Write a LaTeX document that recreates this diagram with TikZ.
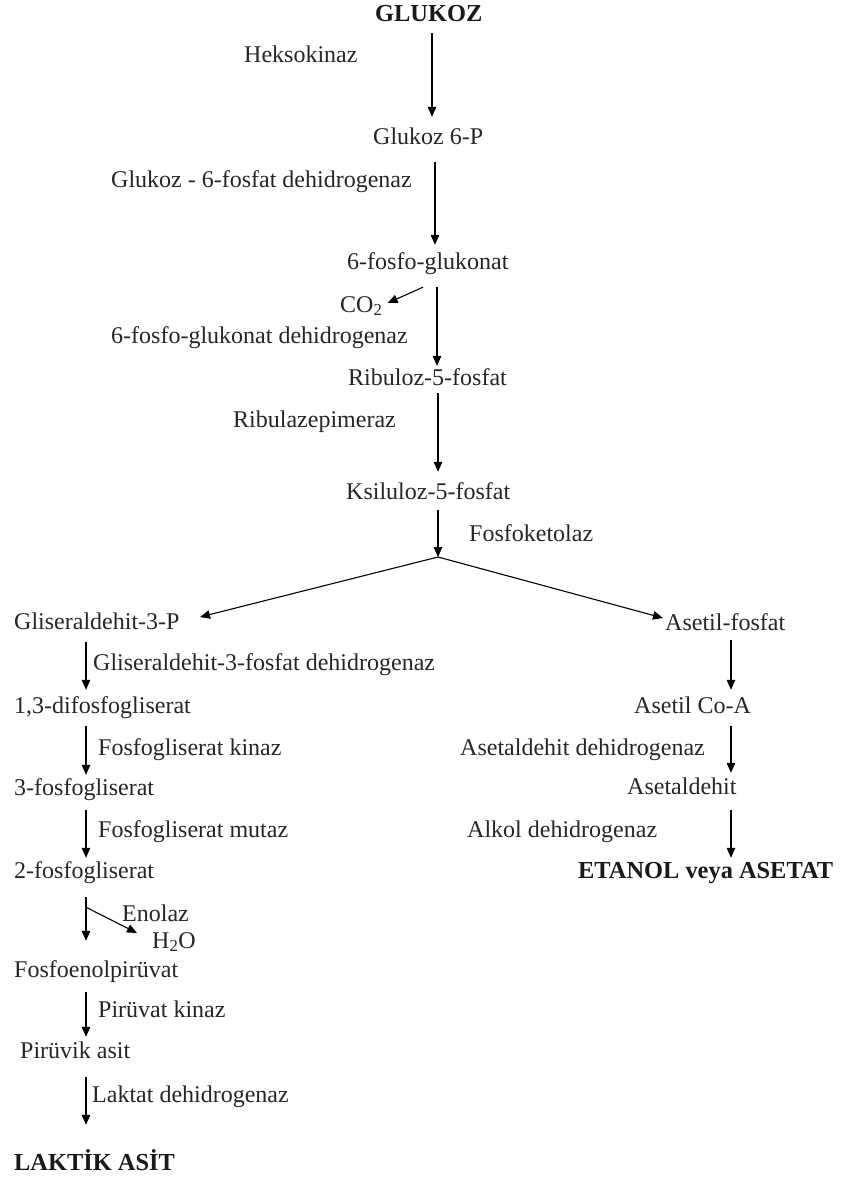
\documentclass[tikz,border=0pt]{standalone}
\usepackage{fontspec}
\setmainfont{Liberation Serif}
\usetikzlibrary{arrows.meta,calc}
\tikzset{
  lbl/.style={anchor=base west, inner sep=0pt, text height=15pt, text depth=5pt, text=black!85, font=\fontsize{24}{28}\selectfont},
  bold/.style={lbl, text=black!90, font=\fontsize{24.4}{28}\selectfont\bfseries},
  arr/.style={-{Triangle[length=10pt,width=8.5pt]}, line width=1.1pt},
  ln/.style={line width=1.1pt}
}
\begin{document}
\begin{tikzpicture}[x=1pt,y=-1pt]
\fill[white] (0,0) rectangle (842,1180);
\useasboundingbox (0,0) rectangle (842,1180);
% column coordinates
\coordinate (xa) at (432,0);
\coordinate (xb) at (435,0);
\coordinate (xc) at (437,0);
\coordinate (xd) at (438,0);
\coordinate (xco) at (423,0);
\coordinate (xl) at (86,0);
\coordinate (xr) at (731,0);
% main trunk
\node[bold] (glu) at (375,22) {GLUKOZ};
\node[lbl] (hek) at (244,63) {Heksokinaz};
\node[lbl] (g6p) at (373,144) {Glukoz 6-P};
\node[lbl] (g6pd) at (111,187) {Glukoz - 6-fosfat dehidrogenaz};
\node[lbl] (pg) at (347,269) {6-fosfo-glukonat};
\node[lbl] (co2) at (340,312) {CO\textsubscript{2}};
\node[lbl] (pgd) at (111,343) {6-fosfo-glukonat dehidrogenaz};
\node[lbl] (rib) at (348,385) {Ribuloz-5-fosfat};
\node[lbl] (epi) at (233,427) {Ribulazepimeraz};
\node[lbl] (ksi) at (346,499) {Ksiluloz-5-fosfat};
\node[lbl] (fk) at (469,541) {Fosfoketolaz};
\coordinate (fork) at (438,557);
% left branch
\node[lbl] (glis) at (14,629) {Gliseraldehit-3-P};
\node[lbl] (glisd) at (93,670) {Gliseraldehit-3-fosfat dehidrogenaz};
\node[lbl] (difos) at (14,713) {1,3-difosfogliserat};
\node[lbl] (fgk) at (98,755) {Fosfogliserat kinaz};
\node[lbl] (tfg) at (14,795) {3-fosfogliserat};
\node[lbl] (fgm) at (98,837) {Fosfogliserat mutaz};
\node[lbl] (ifg) at (14,878) {2-fosfogliserat};
\node[lbl] (eno) at (122,921) {Enolaz};
\node[lbl] (h2o) at (152,948) {H\textsubscript{2}O};
\node[lbl] (fep) at (14,977) {Fosfoenolpirüvat};
\node[lbl] (pk) at (98,1017) {Pirüvat kinaz};
\node[lbl] (pa) at (20,1058) {Pirüvik asit};
\node[lbl] (ldh) at (92,1102) {Laktat dehidrogenaz};
\node[bold] (la) at (14,1170) {LAKTİK ASİT};
% right branch
\node[lbl] (asf) at (665,630) {Asetil-fosfat};
\node[lbl] (aco) at (634,713) {Asetil Co-A};
\node[lbl] (asdd) at (460,755) {Asetaldehit dehidrogenaz};
\node[lbl] (asd) at (627,794) {Asetaldehit};
\node[lbl] (adh) at (467,837) {Alkol dehidrogenaz};
\node[bold] (et) at (578,878) {ETANOL veya ASETAT};
% trunk arrows
\draw[arr] ($(glu.south -| xa)+(0,6)$) -- ($(g6p.north -| xa)+(0,-12)$);
\draw[arr] ($(g6p.south -| xb)+(0,13)$) -- ($(pg.north -| xb)+(0,-9)$);
\draw[arr] ($(pg.south -| xc)+(0,13)$) -- ($(rib.north -| xc)+(0,-4)$);
\draw[arr] ($(pg.south -| xco)+(0,13)$) -- ($(co2.east)+(5,-4)$);
\draw[arr] ($(rib.south -| xd)+(0,3)$) -- ($(ksi.north -| xd)+(0,-12)$);
\draw[arr] ($(ksi.south -| xd)+(0,6)$) -- (fork);
\draw[arr] (fork) -- ($(glis.base west)+(186,-12)$);
\draw[arr] (fork) -- ($(asf.base west)+(-2,-12)$);
% left arrows
\draw[arr] ($(glis.south -| xl)+(0,8)$) -- ($(difos.north -| xl)+(0,-8)$);
\draw[arr] ($(difos.south -| xl)+(0,8)$) -- ($(tfg.north -| xl)+(0,-5)$);
\draw[arr] ($(tfg.south -| xl)+(0,10)$) -- ($(ifg.north -| xl)+(0,-5)$);
\draw[arr] ($(ifg.south -| xl)+(0,14)$) -- ($(fep.north -| xl)+(0,-21)$);
\draw[arr] ($(ifg.south -| xl)+(0,24)$) -- ($(h2o.base west)+(-15,-15)$);
\draw[arr] ($(fep.south -| xl)+(0,10)$) -- ($(pa.north -| xl)+(0,-6)$);
\draw[arr] ($(pa.south -| xl)+(0,14)$) -- ($(la.north -| xl)+(0,-30)$);
% right arrows
\draw[arr] ($(asf.south -| xr)+(0,5)$) -- ($(aco.north -| xr)+(0,-8)$);
\draw[arr] ($(aco.south -| xr)+(0,8)$) -- ($(asd.north -| xr)+(0,-6)$);
\draw[arr] ($(asd.south -| xr)+(0,11)$) -- ($(et.north -| xr)+(0,-5)$);
\end{tikzpicture}
\end{document}
